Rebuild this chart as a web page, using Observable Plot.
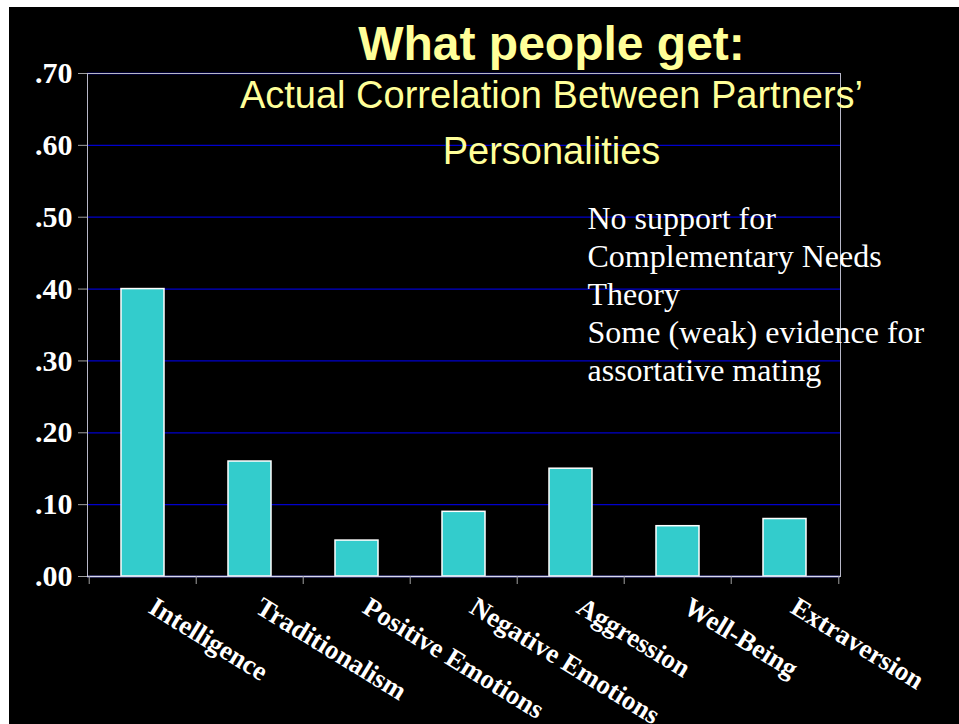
<!DOCTYPE html>
<html>
<head>
<meta charset="utf-8">
<script src="https://cdn.jsdelivr.net/npm/d3@7"></script>
<script src="https://cdn.jsdelivr.net/npm/@observablehq/plot@0.6"></script>
<style>
  html, body { margin: 0; padding: 0; background: #fff; overflow: hidden; }
  #chart { position: absolute; left: 9px; top: 7px; width: 950px; height: 717px; background: #000; }
  #chart svg { display: block; }
</style>
</head>
<body>
<div id="chart"></div>
<script>
const categories = ["Intelligence", "Traditionalism", "Positive Emotions", "Negative Emotions", "Aggression", "Well-Being", "Extraversion"];
const values = [0.40, 0.16, 0.05, 0.09, 0.15, 0.07, 0.08];
const yTicks = [0, 0.1, 0.2, 0.3, 0.4, 0.5, 0.6, 0.7];
const yTickLabels = [".00", ".10", ".20", ".30", ".40", ".50", ".60", ".70"];
const titleText = "What people get:";
const subtitleLines = ["Actual Correlation Between Partners\u2019", "Personalities"];
const noteLines = ["No support for", "Complementary Needs", "Theory", "Some (weak) evidence for", "assortative mating"];

const data = categories.map((c, i) => ({category: c, value: values[i]}));

const W = 950, H = 717;
const mL = 78, mR = 119, mT = 66, mB = 148;
const step = (W - mL - mR) / categories.length;
const serif = "'Liberation Serif', 'Times New Roman', serif";
const sans = "'Liberation Sans', Arial, sans-serif";

const chart = Plot.plot({
  width: W,
  height: H,
  marginLeft: mL,
  marginRight: mR,
  marginTop: mT,
  marginBottom: mB,
  style: {background: "#000", color: "white", overflow: "visible"},
  x: {domain: categories, paddingInner: 0.6, paddingOuter: 0.3, axis: null},
  y: {domain: [0, 0.7], axis: null},
  marks: [
    Plot.ruleY(yTicks, {stroke: "#0000cc", strokeWidth: 1.3}),
    Plot.frame({stroke: "#b8b8c8"}),
    Plot.barY(data, {x: "category", y: "value", fill: "#33cccc", stroke: "white", strokeWidth: 1.5}),
    Plot.ruleY([0], {stroke: "#d8d8ec", strokeWidth: 1.5}),
    Plot.axisY(yTicks, {tickSize: 9, fill: "none", stroke: "#a0a0a0", label: null}),
    Plot.axisY(yTicks, {tickSize: 0, tickPadding: 15, fill: "white", label: null,
      tickFormat: (d) => yTickLabels[yTicks.indexOf(d)],
      fontSize: 30, fontWeight: "bold", fontFamily: serif}),
    Plot.axisX(categories, {tickSize: 8, fill: "none", stroke: "#a0a0a0", dx: -step / 2, label: null}),
    Plot.axisX([categories[categories.length - 1]], {tickSize: 8, fill: "none", stroke: "#a0a0a0", dx: step / 2, label: null}),
    Plot.text(categories, {x: (d) => d, frameAnchor: "bottom", dx: 14, dy: 19, rotate: 31.5,
      textAnchor: "start", lineAnchor: "top", fill: "white", fontSize: 27, fontWeight: "bold", fontFamily: serif}),
    Plot.text([titleText], {frameAnchor: "top", dx: 87.5, dy: -14, lineAnchor: "bottom",
      fill: "#ffff99", fontSize: 48, fontWeight: "bold", fontFamily: sans}),
    Plot.text([subtitleLines.join("\n")], {frameAnchor: "top", dx: 87.5, dy: 90, lineAnchor: "bottom", lineHeight: 1.45,
      fill: "#ffff99", fontSize: 38, fontFamily: sans}),
    Plot.text([noteLines.join("\n")], {frameAnchor: "top-left", dx: 500, dy: 307, lineAnchor: "bottom", lineHeight: 1.18,
      textAnchor: "start", fill: "white", fontSize: 32, fontFamily: serif})
  ]
});
document.getElementById("chart").appendChild(chart);
</script>
</body>
</html>
